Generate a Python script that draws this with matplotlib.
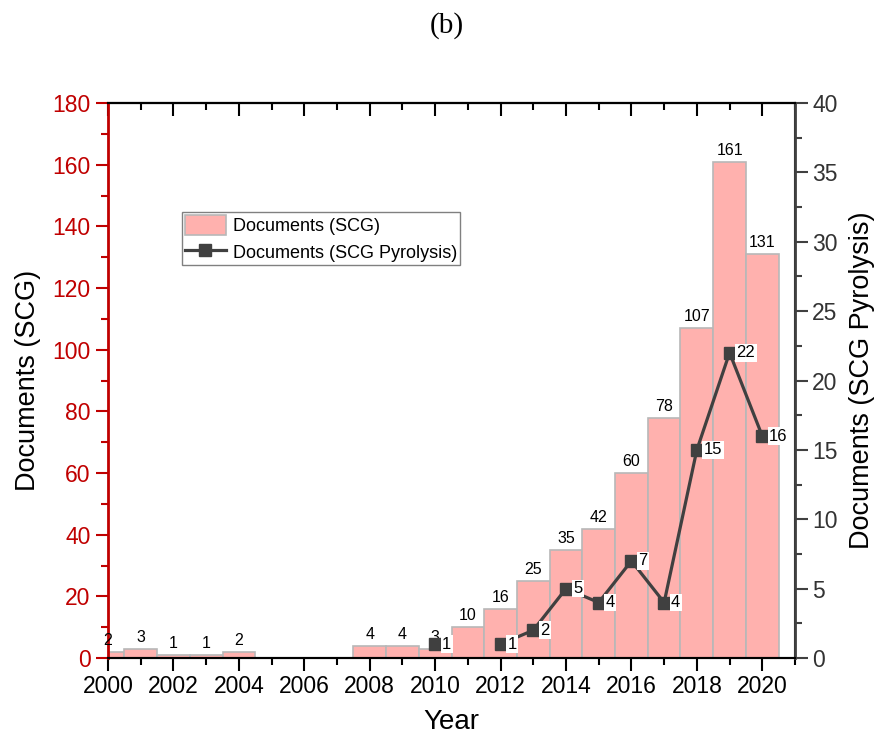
import numpy as np
import matplotlib.pyplot as plt
from matplotlib.ticker import MultipleLocator

plt.rcParams['font.family'] = ['Liberation Sans', 'DejaVu Sans']

years = np.arange(2000, 2021)
docs_scg = [2, 3, 1, 1, 2, 0, 0, 0, 4, 4, 3, 10, 16, 25, 35, 42, 60, 78, 107, 161, 131]
docs_pyro = [np.nan] * 10 + [1, np.nan, 1, 2, 5, 4, 7, 4, 15, 22, 16]

red = '#c00000'
grey = '#404040'

fig = plt.figure(figsize=(8.74, 7.4), dpi=100)
ax = fig.add_axes([0.1236, 0.1108, 0.7860, 0.7500])
ax2 = ax.twinx()

bars = ax.bar(years, docs_scg, width=1.0, color='#ffb1ae', edgecolor='#b8b8b8',
              linewidth=1.2, label='Documents (SCG)')
for x, v in zip(years, docs_scg):
    if v > 0:
        ax.text(x, v + 1.2, f'{v}', ha='center', va='bottom', fontsize=11.5)

line, = ax2.plot(years, docs_pyro, color=grey, lw=2.3, marker='s', ms=8,
                 label='Documents (SCG Pyrolysis)')
for x, v in zip(years, docs_pyro):
    if not np.isnan(v):
        ax2.annotate(f'{v:.0f}', (x, v), xytext=(5, 0), textcoords='offset points',
                     ha='left', va='center', fontsize=12,
                     bbox=dict(boxstyle='square,pad=0.08', fc='white', ec='none'))

ax.set_xlim(2000, 2021)
ax.set_ylim(0, 180)
ax2.set_ylim(0, 40)

ax.xaxis.set_major_locator(MultipleLocator(2))
ax.xaxis.set_minor_locator(MultipleLocator(1))
ax.yaxis.set_major_locator(MultipleLocator(20))
ax.yaxis.set_minor_locator(MultipleLocator(10))
ax2.yaxis.set_major_locator(MultipleLocator(5))
ax2.yaxis.set_minor_locator(MultipleLocator(2.5))

ax.tick_params(axis='both', which='major', direction='out', length=9, width=1.5, labelsize=16.5)
ax.tick_params(axis='both', which='minor', direction='out', length=5, width=1.5)
ax.tick_params(axis='y', which='both', colors=red)
ax2.tick_params(axis='y', which='major', direction='out', length=9, width=1.5,
                colors=grey, labelsize=16.5)
ax2.tick_params(axis='y', which='minor', direction='out', length=5, width=1.5, colors=grey)
ax2.tick_params(axis='y', labelcolor='#333333')

# mirrored inward ticks along the top edge
top = ax.secondary_xaxis('top')
top.xaxis.set_major_locator(MultipleLocator(2))
top.xaxis.set_minor_locator(MultipleLocator(1))
top.tick_params(which='major', direction='in', length=9, width=1.5, labeltop=False)
top.tick_params(which='minor', direction='in', length=5, width=1.5)
top.spines['top'].set_linewidth(1.5)

for a in (ax, ax2):
    for s in a.spines.values():
        s.set_linewidth(1.5)
ax.spines['left'].set_color(red)
ax.spines['left'].set_linewidth(2)
ax2.spines['left'].set_visible(False)
ax2.spines['right'].set_color(grey)
ax2.spines['right'].set_linewidth(2)

ax.set_xlabel('Year', fontsize=20, labelpad=8)
ax.set_ylabel('Documents (SCG)', fontsize=19.5, labelpad=8)
ax2.set_ylabel('Documents (SCG Pyrolysis)', fontsize=19.5, labelpad=8)

ax2.legend([bars, line], ['Documents (SCG)', 'Documents (SCG Pyrolysis)'],
           loc='upper left', bbox_to_anchor=(0.1077, 0.803), borderaxespad=0,
           fontsize=13, fancybox=False, edgecolor='#808080', framealpha=1,
           handlelength=2.3, handleheight=1.35, handletextpad=0.35,
           borderpad=0.15, labelspacing=0.35)

fig.text(0.511, 0.965, '(b)', ha='center', va='center', fontsize=21,
         family='Liberation Serif')

fig.savefig('out.png', dpi=100)
